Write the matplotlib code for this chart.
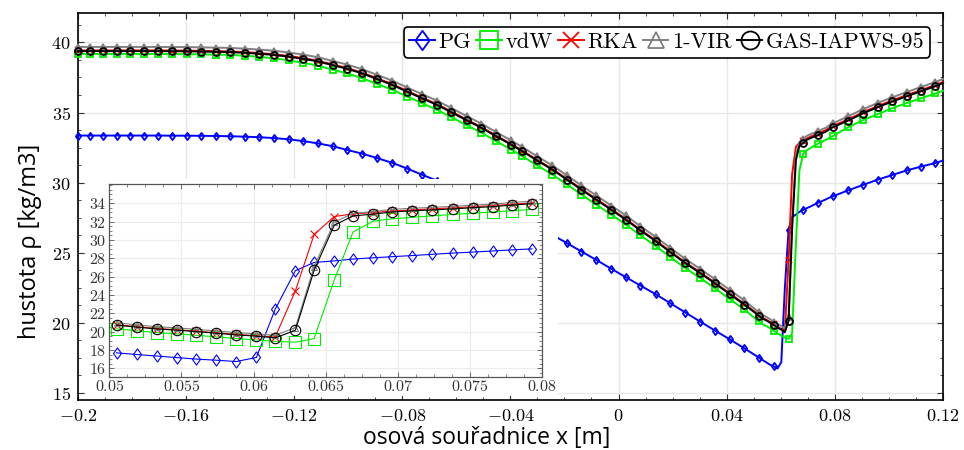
import numpy as np
import matplotlib
matplotlib.use("Agg")
import matplotlib.pyplot as plt
from matplotlib.lines import Line2D
from matplotlib.patches import Rectangle
from matplotlib.path import Path
from matplotlib.ticker import MultipleLocator, FixedLocator, FuncFormatter

plt.rcParams['mathtext.fontset'] = 'cm'

# axial position [m]: coarse mesh points upstream of the shock
x_up = [-0.2000, -0.1955, -0.1905, -0.1856, -0.1807, -0.1755, -0.1702, -0.1650,
        -0.1597, -0.1544, -0.1489, -0.1437, -0.1382, -0.1328, -0.1274, -0.1219,
        -0.1165, -0.1111, -0.1057, -0.1003, -0.0948, -0.0894, -0.0836, -0.0781,
        -0.0727, -0.0672, -0.0618, -0.0562, -0.0507, -0.0453, -0.0397, -0.0356,
        -0.0302, -0.0245, -0.0191, -0.0137, -0.0083, -0.0027, 0.0027, 0.0081,
        0.0137, 0.0191, 0.0247, 0.0302, 0.0357, 0.0411, 0.0465]
# every mesh point around the shock (also shown in the detail)
x_shock = [0.0505, 0.0519, 0.0533, 0.0547, 0.0560, 0.0574, 0.0588, 0.0602,
           0.0615, 0.0629, 0.0642, 0.0656, 0.0669, 0.0683, 0.0696, 0.0710,
           0.0724, 0.0738, 0.0752, 0.0766, 0.0779, 0.0793]
# coarse mesh points downstream
x_down = [0.0849, 0.0903, 0.0958, 0.1013, 0.1067, 0.1119, 0.1172, 0.1200]

# density [kg/m3] for each gas model
pg_up = [33.36, 33.36, 33.36, 33.36, 33.36, 33.36, 33.36, 33.35, 33.35, 33.34,
         33.33, 33.31, 33.28, 33.24, 33.18, 33.09, 32.96, 32.80, 32.60, 32.33,
         32.07, 31.76, 31.41, 31.00, 30.57, 30.15, 29.72, 29.27, 28.80, 28.32,
         27.80, 27.40, 26.86, 26.28, 25.69, 25.09, 24.50, 23.86, 23.26, 22.66,
         22.05, 21.41, 20.74, 20.09, 19.45, 18.83, 18.19]
pg_shock = [17.70, 17.52, 17.35, 17.18, 17.02, 16.90, 16.75, 17.20, 22.45, 26.65,
            27.55, 27.72, 27.92, 28.06, 28.18, 28.30, 28.44, 28.57, 28.68, 28.80,
            28.92, 29.03]
pg_down = [29.45, 29.83, 30.21, 30.55, 30.88, 31.15, 31.40, 31.58]

vdw_up = [39.18, 39.18, 39.18, 39.18, 39.18, 39.18, 39.18, 39.17, 39.17, 39.15,
          39.13, 39.11, 39.06, 38.97, 38.87, 38.72, 38.55, 38.34, 38.06, 37.79,
          37.45, 37.05, 36.62, 36.13, 35.67, 35.20, 34.67, 34.10, 33.56, 32.96,
          32.36, 31.89, 31.24, 30.58, 29.87, 29.15, 28.44, 27.72, 27.01, 26.24,
          25.49, 24.70, 23.91, 23.20, 22.46, 21.70, 20.96]
vdw_shock = [20.32, 20.10, 19.90, 19.77, 19.62, 19.44, 19.26, 19.10, 18.95, 18.86,
             19.25, 25.66, 30.87, 32.05, 32.30, 32.47, 32.63, 32.78, 32.92, 33.05,
             33.18, 33.33]
vdw_down = [33.95, 34.45, 34.88, 35.31, 35.69, 36.02, 36.36, 36.55]

rka_up = [39.43, 39.43, 39.43, 39.43, 39.43, 39.43, 39.43, 39.42, 39.42, 39.40,
          39.38, 39.36, 39.31, 39.24, 39.16, 39.03, 38.88, 38.69, 38.43, 38.17,
          37.84, 37.45, 37.02, 36.53, 36.07, 35.60, 35.07, 34.50, 33.96, 33.36,
          32.76, 32.29, 31.64, 30.98, 30.27, 29.55, 28.84, 28.12, 27.41, 26.64,
          25.89, 25.10, 24.31, 23.60, 22.86, 22.10, 21.36]
rka_shock = [20.77, 20.55, 20.35, 20.22, 20.07, 19.89, 19.71, 19.57, 19.42, 24.45,
             30.60, 32.55, 32.85, 32.98, 33.15, 33.28, 33.40, 33.50, 33.63, 33.74,
             33.90, 34.04]
rka_down = [34.51, 35.01, 35.46, 35.87, 36.25, 36.60, 36.96, 37.18]

vir_up = [39.68, 39.68, 39.68, 39.68, 39.68, 39.68, 39.68, 39.67, 39.67, 39.65,
          39.63, 39.61, 39.56, 39.49, 39.41, 39.28, 39.13, 38.94, 38.68, 38.42,
          38.09, 37.70, 37.27, 36.78, 36.32, 35.85, 35.32, 34.75, 34.21, 33.61,
          33.01, 32.54, 31.89, 31.23, 30.52, 29.80, 29.09, 28.37, 27.66, 26.89,
          26.14, 25.35, 24.56, 23.85, 23.11, 22.35, 21.61]
vir_shock = [20.97, 20.75, 20.55, 20.42, 20.27, 20.09, 19.91, 19.77, 19.60, 20.45,
             27.10, 31.95, 32.90, 33.10, 33.33, 33.46, 33.56, 33.66, 33.80, 33.91,
             34.08, 34.23]
vir_down = [34.73, 35.23, 35.68, 36.09, 36.47, 36.82, 37.18, 37.40]

gas_up = [39.38, 39.38, 39.38, 39.38, 39.38, 39.38, 39.38, 39.37, 39.37, 39.35,
          39.33, 39.31, 39.26, 39.19, 39.11, 38.98, 38.83, 38.64, 38.38, 38.12,
          37.79, 37.40, 36.97, 36.48, 36.02, 35.55, 35.02, 34.45, 33.91, 33.31,
          32.71, 32.24, 31.59, 30.93, 30.22, 29.50, 28.79, 28.07, 27.36, 26.59,
          25.84, 25.05, 24.26, 23.55, 22.81, 22.05, 21.31]
gas_shock = [20.72, 20.50, 20.30, 20.17, 20.02, 19.84, 19.66, 19.52, 19.33, 20.15,
             26.69, 31.62, 32.62, 32.82, 33.05, 33.18, 33.28, 33.38, 33.52, 33.63,
             33.80, 33.95]
gas_down = [34.43, 34.93, 35.38, 35.79, 36.17, 36.52, 36.88, 37.10]

labels = ['PG', 'vdW', 'RKA', '1-VIR', 'GAS-IAPWS-95']
colors = ['#0000ff', '#00ee00', '#ff0000', '#808080', '#000000']

inset_yticks = [16, 18, 20, 22, 24, 26, 28, 30, 32, 34]

diamond = Path([(0, 1), (0.72, 0), (0, -1), (-0.72, 0), (0, 1)],
               [Path.MOVETO, Path.LINETO, Path.LINETO, Path.LINETO, Path.CLOSEPOLY])
markers = [diamond, 's', 'x', '^', 'o']
main_ms = [5.2, 4.0, 4.0, 5.0, 5.0]
ins_ms = [8.0, 8.5, 5.5, 4.5, 7.5]
leg_ms = [14, 13, 12, 12, 13]

series = [
    (pg_up, pg_shock, pg_down),
    (vdw_up, vdw_shock, vdw_down),
    (rka_up, rka_shock, rka_down),
    (vir_up, vir_shock, vir_down),
    (gas_up, gas_shock, gas_down),
]

x_all = x_up + x_shock + x_down
n_up = len(x_up)
n_sh = len(x_shock)
marks = (list(range(n_up))
         + [n_up + i for i in range(1, n_sh, 4)]
         + list(range(n_up + n_sh, len(x_all) - 1)))


def tex_num(v, pos=None):
    v = round(v, 4)
    if abs(v) < 1e-9:
        v = 0.0
    return '$%g$' % v


fig = plt.figure(figsize=(9.64, 4.5), dpi=100)
ax = fig.add_axes([77.7 / 964, 1 - 400 / 450, (943 - 77.7) / 964, (400 - 13) / 450])

for (up, sh, dn), c, m, ms in zip(series, colors, markers, main_ms):
    ax.plot(x_all, up + sh + dn, color=c, lw=1.4, marker=m, ms=ms,
            mfc='none', mec=c, mew=1.3, markevery=marks, clip_on=False, zorder=3)

ax.set_xlim(-0.2, 0.12)
ax.set_ylim(14.5, 42.1)
ax.xaxis.set_major_locator(MultipleLocator(0.04))
ax.xaxis.set_minor_locator(MultipleLocator(0.01))
ax.yaxis.set_major_locator(MultipleLocator(5))
ax.yaxis.set_minor_locator(MultipleLocator(1.25))
ax.xaxis.set_major_formatter(FuncFormatter(tex_num))
ax.yaxis.set_major_formatter(FuncFormatter(tex_num))
ax.tick_params(which='both', direction='in', top=True, right=True,
               labelsize=13, color='#333333')
ax.tick_params(which='major', length=4.5, width=0.8, pad=5)
ax.tick_params(which='minor', length=2.5, width=0.6)
ax.grid(True, which='major', color='#e8e8e8', lw=1.0, zorder=0)
for s in ax.spines.values():
    s.set_linewidth(1.2)

ax.set_xlabel('osová souřadnice x [m]', family='Open Sans', fontsize=16.5)
ax.xaxis.set_label_coords(0.473, -0.066)
ax.set_ylabel('hustota ρ [kg/m3]', family='Open Sans', fontsize=17)
ax.yaxis.set_label_coords(-0.041, 0.41)

handles = [Line2D([], [], color=c, lw=1.4, marker=m, ms=ms, mfc='none', mec=c, mew=1.3)
           for c, m, ms in zip(colors, markers, leg_ms)]
leg = ax.legend(handles, labels, loc='upper right', ncol=5,
                bbox_to_anchor=(930 / 964, 1 - 27 / 450),
                bbox_transform=fig.transFigure,
                prop={'family': 'cmr10', 'size': 16}, handlelength=1.15,
                handletextpad=0.15, columnspacing=0.25, borderpad=0.25,
                borderaxespad=0, fancybox=True, framealpha=1, edgecolor='black')
leg.get_frame().set_linewidth(1.2)

# white backing behind the detail plot and its labels
fig.add_artist(Rectangle((86 / 964, 1 - 396 / 450), (558 - 86) / 964, (396 - 179.5) / 450,
                         transform=fig.transFigure, facecolor='white',
                         edgecolor='none', zorder=1))

ins = fig.add_axes([109.3 / 964, 1 - 376.7 / 450, (542 - 109.3) / 964, (376.7 - 184) / 450])
ins.set_zorder(2)
for (up, sh, dn), c, m, ms in zip(series, colors, markers, ins_ms):
    ins.plot(x_shock, sh, color=c, lw=0.8, marker=m, ms=ms,
             mfc='none', mec=c, mew=0.8, zorder=3)
ins.set_xlim(0.05, 0.08)
ins.set_ylim(15.1, 36.1)
ins.xaxis.set_major_locator(MultipleLocator(0.005))
ins.xaxis.set_minor_locator(MultipleLocator(0.00125))
ins.yaxis.set_major_locator(FixedLocator(inset_yticks))
ins.yaxis.set_minor_locator(MultipleLocator(0.5))
ins.xaxis.set_major_formatter(FuncFormatter(tex_num))
ins.yaxis.set_major_formatter(FuncFormatter(tex_num))
ins.tick_params(which='both', direction='in', top=True, right=True,
                labelsize=11.5, color='#555555', labelcolor='#333333')
ins.tick_params(which='major', length=3.5, width=0.6, pad=2)
ins.tick_params(which='minor', length=2, width=0.5)
ins.grid(True, which='major', color='#ececec', lw=0.8, zorder=0)
for s in ins.spines.values():
    s.set_color('#555555')
    s.set_linewidth(0.9)

fig.savefig('out.png', dpi=100)
